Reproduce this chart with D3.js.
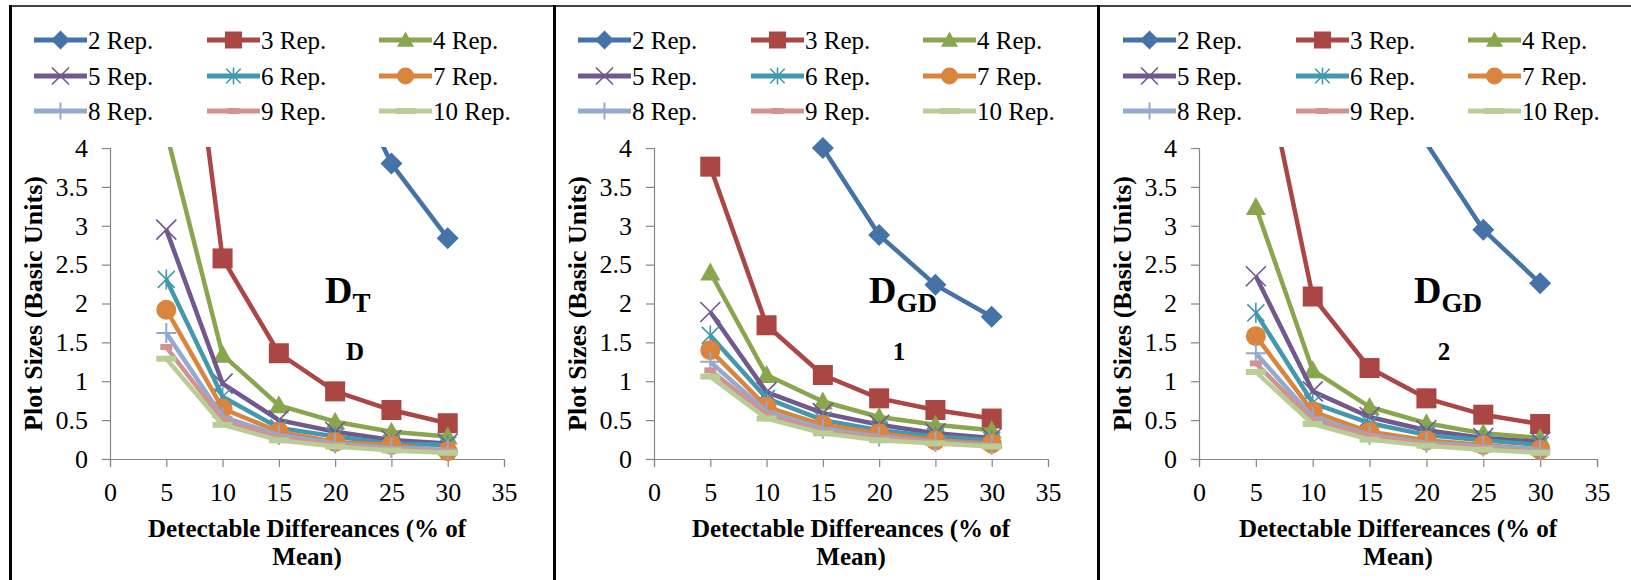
<!DOCTYPE html>
<html>
<head>
<meta charset="utf-8">
<script src="https://cdn.jsdelivr.net/npm/d3@7/dist/d3.min.js"></script>
<style>
body { margin: 0; background: #fff; }
svg text { font-family: "Liberation Serif", "Times New Roman", serif; fill: #000; }
</style>
</head>
<body>
<div id="chart"></div>
<script>
var detectDiffs = [5, 10, 15, 20, 25, 30];
var repNames = ["2 Rep.", "3 Rep.", "4 Rep.", "5 Rep.", "6 Rep.", "7 Rep.", "8 Rep.", "9 Rep.", "10 Rep."];
var xTicks = [0, 5, 10, 15, 20, 25, 30, 35];
var yTicks = [0, 0.5, 1, 1.5, 2, 2.5, 3, 3.5, 4];

// plot sizes, one row per replication count (2..10), columns = 5..30 %
var dtSizes = [
    [33, 15.5, 8.2, 5.3, 3.80, 2.84],
    [8.2, 2.58, 1.36, 0.87, 0.63, 0.46],
    [4.2, 1.34, 0.69, 0.48, 0.35, 0.29],
    [2.95, 0.97, 0.50, 0.35, 0.245, 0.20],
    [2.31, 0.80, 0.40, 0.29, 0.20, 0.18],
    [1.92, 0.65, 0.35, 0.22, 0.18, 0.10],
    [1.62, 0.54, 0.31, 0.20, 0.14, 0.12],
    [1.44, 0.50, 0.27, 0.18, 0.12, 0.10],
    [1.29, 0.44, 0.24, 0.16, 0.11, 0.08]
];
var dgd1Sizes = [
    [16, 6.5, 4.0, 2.88, 2.24, 1.83],
    [3.76, 1.72, 1.08, 0.78, 0.63, 0.52],
    [2.40, 1.08, 0.74, 0.54, 0.44, 0.37],
    [1.89, 0.86, 0.59, 0.44, 0.33, 0.27],
    [1.59, 0.78, 0.50, 0.37, 0.29, 0.24],
    [1.40, 0.67, 0.44, 0.33, 0.24, 0.20],
    [1.25, 0.61, 0.39, 0.29, 0.22, 0.18],
    [1.14, 0.57, 0.35, 0.27, 0.21, 0.17],
    [1.06, 0.52, 0.33, 0.24, 0.20, 0.16]
];
var dgd2Sizes = [
    [25, 9.5, 5.8, 4.06, 2.95, 2.26],
    [5.59, 2.09, 1.17, 0.78, 0.57, 0.45],
    [3.24, 1.14, 0.67, 0.46, 0.33, 0.27],
    [2.35, 0.87, 0.54, 0.37, 0.27, 0.22],
    [1.88, 0.72, 0.46, 0.31, 0.24, 0.18],
    [1.58, 0.61, 0.35, 0.24, 0.18, 0.12],
    [1.36, 0.54, 0.31, 0.21, 0.16, 0.12],
    [1.23, 0.50, 0.29, 0.19, 0.14, 0.09],
    [1.12, 0.45, 0.25, 0.17, 0.12, 0.08]
];
var panelData = [dtSizes, dgd1Sizes, dgd2Sizes];
var panelSub = ["T", "GD", "GD"];
var panelNote = ["D", "1", "2"];

var colors = ["#4572A7", "#AA4643", "#89A54E", "#71588F", "#4198AF", "#DB843D", "#93A9CF", "#D19392", "#B9CD96"];
var markers = ["diamond", "square", "triangle", "x", "star", "circle", "plus", "dash", "longdash"];

var viewboxwidth = 1631;
var viewboxheight = 580;
var serif = '"Liberation Serif", "Times New Roman", serif';
var panelOffsets = [0, 544, 1089];
var plotRights = [504, 504, 508];
var plot = {left: 110, top: 148, bottom: 459};

var svg = d3.select("#chart")
    .append("svg")
    .attr("width", viewboxwidth)
    .attr("height", viewboxheight);

var y = d3.scaleLinear().domain([0, 4]).range([plot.bottom, plot.top]);

function drawMarker(g, type, color, s) {
    if (type == "diamond") {
        g.append("path").attr("d", "M0," + (-s - 1) + "L" + (s + 1) + ",0L0," + (s + 1) + "L" + (-s - 1) + ",0Z").attr("fill", color);
    } else if (type == "square") {
        g.append("rect").attr("x", -s).attr("y", -s).attr("width", 2 * s).attr("height", 2 * s).attr("fill", color);
    } else if (type == "triangle") {
        g.append("path").attr("d", "M0," + (-s) + "L" + s + "," + (s * 0.8) + "L" + (-s) + "," + (s * 0.8) + "Z").attr("fill", color);
    } else if (type == "circle") {
        g.append("circle").attr("r", s).attr("fill", color);
    } else if (type == "x") {
        g.append("path").attr("d", "M" + (-s) + "," + (-s) + "L" + s + "," + s + "M" + (-s) + "," + s + "L" + s + "," + (-s))
            .attr("stroke", color).attr("stroke-width", 1.6).attr("fill", "none");
    } else if (type == "star") {
        var k = s * 0.85;
        g.append("path").attr("d", "M" + (-k) + "," + (-k) + "L" + k + "," + k + "M" + (-k) + "," + k + "L" + k + "," + (-k) + "M0," + (-s) + "L0," + s)
            .attr("stroke", color).attr("stroke-width", 1.6).attr("fill", "none");
    } else if (type == "plus") {
        g.append("path").attr("d", "M" + (-s) + ",0L" + s + ",0M0," + (-s) + "L0," + s)
            .attr("stroke", color).attr("stroke-width", 2).attr("fill", "none");
    } else if (type == "dash") {
        g.append("rect").attr("x", -6).attr("y", -3).attr("width", 12).attr("height", 6).attr("fill", color);
    } else if (type == "longdash") {
        g.append("rect").attr("x", -10).attr("y", -3).attr("width", 20).attr("height", 6).attr("fill", color);
    }
}

panelData.forEach(function(data, p) {
    var x = d3.scaleLinear().domain([0, 35]).range([plot.left, plotRights[p]]);
    var line = d3.line()
        .x(function(d, i) { return x(detectDiffs[i]); })
        .y(function(d) { return y(d); });

    var panel = svg.append("g")
        .attr("transform", "translate(" + panelOffsets[p] + ",0)");

    // legend, three columns
    var legend = panel.append("g");
    repNames.forEach(function(name, i) {
        var lx = [34, 207, 379][i % 3];
        var ly = [40, 76, 111][Math.floor(i / 3)];
        var item = legend.append("g");
        item.append("line")
            .attr("x1", lx).attr("x2", lx + 53)
            .attr("y1", ly).attr("y2", ly)
            .attr("stroke", colors[i])
            .attr("stroke-width", 5);
        drawMarker(item.append("g").attr("transform", "translate(" + (lx + 26.5) + "," + ly + ")"), markers[i], colors[i], 8.5);
        item.append("text")
            .attr("x", lx + 54)
            .attr("y", ly + 8.5)
            .style("font-family", serif)
            .style("font-size", "25px")
            .text(name);
    });

    // axes
    var yAxis = panel.append("g")
        .attr("transform", "translate(" + plot.left + ",0)")
        .call(d3.axisLeft(y).tickValues(yTicks).tickSize(8).tickPadding(14).tickFormat(d3.format("")));
    var xAxis = panel.append("g")
        .attr("transform", "translate(0," + plot.bottom + ")")
        .call(d3.axisBottom(x).tickValues(xTicks).tickSize(8).tickPadding(16).tickFormat(d3.format("")));
    [yAxis, xAxis].forEach(function(a) {
        a.attr("font-family", serif);
        a.select(".domain").attr("stroke", "#868686").attr("stroke-width", 1.2);
        a.selectAll(".tick line").attr("stroke", "#868686").attr("stroke-width", 1.2);
        a.selectAll(".tick text")
            .style("font-family", serif)
            .style("font-size", "26px")
            .attr("fill", "#000");
    });
    yAxis.selectAll(".tick text").attr("dy", "0.32em");
    xAxis.selectAll(".tick text").attr("dy", "0.71em");

    // series
    panel.append("clipPath")
        .attr("id", "clip-" + p)
        .append("rect")
        .attr("x", plot.left)
        .attr("y", plot.top - 1)
        .attr("width", plotRights[p] - plot.left)
        .attr("height", plot.bottom - plot.top + 1);

    var seriesLayer = panel.append("g");
    data.forEach(function(vals, i) {
        seriesLayer.append("path")
            .datum(vals)
            .attr("d", line)
            .attr("clip-path", "url(#clip-" + p + ")")
            .attr("fill", "none")
            .attr("stroke", colors[i])
            .attr("stroke-width", 4.5)
            .attr("stroke-linejoin", "round");
        vals.forEach(function(v, j) {
            if (v > 4.001) return;
            drawMarker(seriesLayer.append("g").attr("transform", "translate(" + x(detectDiffs[j]) + "," + y(v) + ")"), markers[i], colors[i], 10);
        });
    });

    // axis titles
    var midX = (plot.left + plotRights[p]) / 2;
    panel.append("text")
        .attr("transform", "translate(42," + ((plot.top + plot.bottom) / 2) + ") rotate(-90)")
        .attr("text-anchor", "middle")
        .style("font-family", serif)
        .style("font-size", "26px")
        .style("font-weight", "bold")
        .text("Plot Sizes (Basic Units)");
    panel.append("text")
        .attr("x", midX)
        .attr("y", 537)
        .attr("text-anchor", "middle")
        .style("font-family", serif)
        .style("font-size", "25px")
        .style("font-weight", "bold")
        .text("Detectable Differeances (% of");
    panel.append("text")
        .attr("x", midX)
        .attr("y", 565)
        .attr("text-anchor", "middle")
        .style("font-family", serif)
        .style("font-size", "25px")
        .style("font-weight", "bold")
        .text("Mean)");

    // panel label
    var label = panel.append("text")
        .attr("x", 325)
        .attr("y", 303)
        .style("font-family", serif)
        .style("font-weight", "bold");
    label.append("tspan").style("font-size", "38px").text("D");
    label.append("tspan").style("font-size", "27px").attr("dy", 9).text(panelSub[p]);
    panel.append("text")
        .attr("x", 355)
        .attr("y", 360)
        .attr("text-anchor", "middle")
        .style("font-family", serif)
        .style("font-size", "25px")
        .style("font-weight", "bold")
        .text(panelNote[p]);
});

// frame lines between panels
svg.append("line")
    .attr("x1", 10).attr("x2", viewboxwidth)
    .attr("y1", 6).attr("y2", 6)
    .attr("stroke", "#444").attr("stroke-width", 2);
[10.5, 554.5, 1098.5].forEach(function(bx) {
    svg.append("line")
        .attr("x1", bx).attr("x2", bx)
        .attr("y1", 5).attr("y2", viewboxheight)
        .attr("stroke", "#000").attr("stroke-width", 3);
});
</script>
</body>
</html>
